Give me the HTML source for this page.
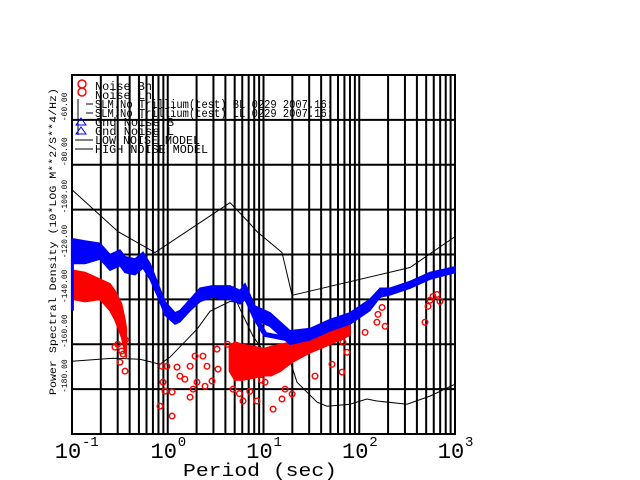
<!DOCTYPE html>
<html><head><meta charset="utf-8"><style>
html,body{margin:0;padding:0;background:#fff;}
svg{display:block;}
text{font-family:"Liberation Mono",monospace;}
</style></head><body>
<svg id="chart" width="640" height="480" viewBox="0 0 640 480" xmlns="http://www.w3.org/2000/svg">
<g id="grid"></g>
<g id="series"></g>
<g id="axes"></g>
</svg>
<script>
// ---- data ----
const yTicks = [-60, -80, -100, -120, -140, -160, -180];
const yTickLabels = ["-60.00", "-80.00", "-100.00", "-120.00", "-140.00", "-160.00", "-180.00"];
const xDecades = [-1, 0, 1, 2, 3];
const hnmPeriod = [0.1, 0.302, 0.736, 4.47, 6.89, 8.55, 15.6, 19.9, 339, 1000];
const hnmDb = [-91.1, -109.8, -119.1, -96.9, -105.3, -109.8, -119.1, -138.2, -125.8, -112];
const lnmPeriod = [0.1, 0.268, 0.513, 0.83, 1.05, 2.02, 2.76, 4.47, 5.29, 5.69, 7.77, 10.9, 12.3, 15.6, 18.0, 22.4, 36.2, 46, 80, 120, 153, 315, 548, 1000];
const lnmDb = [-167.6, -166.2, -166.7, -168.9, -165.8, -153.3, -145.3, -140.9, -141.3, -144.4, -156.4, -165.3, -165.8, -162.2, -164.4, -176.9, -185.8, -187.6, -186.7, -184.4, -185.3, -186.7, -183.1, -177.8];
const blueSpikePeriod = [0.101, 0.101, 0.103];
const blueSpikeDb = [-145, -113, -118];
const bluePeriod = [0.103, 0.137, 0.196, 0.249, 0.317, 0.358, 0.455, 0.552, 0.653, 0.791, 0.936, 1.19, 1.34, 1.71, 2.17, 2.9, 4.47, 5.69, 6.41, 8.15, 11.7, 18.9, 30.6, 49.4, 80, 129, 165, 209, 339, 548, 1000];
const blueUpperDb = [-113, -114, -115, -120, -118, -121, -122, -119, -124, -133, -141, -146, -145, -140, -135, -134, -134, -136, -133, -143, -146, -154, -153, -149, -146, -140, -135, -135, -132, -128, -125.5];
const blueLowerDb = [-124, -124, -122, -127, -125, -128, -129, -126, -131, -139, -147, -151, -150, -145, -141, -139, -140, -142, -140, -149, -152, -160, -158, -154, -151, -145, -139, -138, -135, -131, -128];
const blueLowPeriod = [6.41, 8.15, 10.4, 18.9];
const blueLowDb = [-138, -148, -155.6, -157.8];
const redBandPeriod = [0.102, 0.137, 0.196, 0.249, 0.28, 0.33, 0.358, 0.37];
const redBandUpperDb = [-127, -128, -131, -133, -136, -142, -149, -153];
const redBandLowerDb = [-140, -141, -140, -145, -149, -157, -164, -166];
const redClusterPeriod = [4.4, 5, 6, 8, 10, 12, 15, 20, 30, 50, 80];
const redClusterUpperDb = [-161, -159, -160, -161, -162, -161, -160, -159, -156, -152, -149];
const redClusterLowerDb = [-172, -176, -176, -175, -174, -174, -172, -168, -164, -160, -156];
const redPtsPeriod = [0.281, 0.341, 0.317, 0.358, 0.871, 0.98, 0.891, 0.935, 1.11, 0.83, 1.11, 1.25, 1.34, 1.51, 1.71, 1.93, 2.02, 1.84, 2.33, 2.57, 2.9, 3.27, 3.35, 2.45, 1.71, 6.11, 8.55, 12.6, 15.6, 19.9, 34.5, 51.9, 66.1, 74.5, 53.2, 67.6, 115, 153, 186, 157, 173, 486, 523, 548, 589, 649, 697, 10.4, 16.8, 4.8, 5.6, 7.2, 4.2, 9.5, 0.3, 0.33, 0.36];
const redPtsDb = [-161.3, -164.4, -168, -172, -169.8, -169.8, -176.9, -180.9, -181.3, -187.6, -192, -170.2, -174.2, -175.6, -169.8, -165.3, -176.9, -180, -165.3, -169.8, -176.4, -162.2, -171.1, -178.7, -183.6, -185.3, -185.3, -188.9, -184.4, -182.2, -174.2, -168.9, -172.4, -163.6, -156.9, -159.1, -154.7, -150.2, -152, -146.7, -143.6, -150.2, -143.1, -140.4, -138.7, -137.8, -140.9, -176.9, -180, -180, -182, -181, -160, -176, -160, -163, -158];

// ---- scales ----
const X0 = 72, X1 = 455, Y0 = 75, Y1 = 434;
const DMIN = -200, DMAX = -40;
function xs(p){ return X0 + (Math.log10(p) + 1) / 4 * (X1 - X0); }
function ys(d){ return Y0 + (DMAX - d) / (DMAX - DMIN) * (Y1 - Y0); }
const NS = "http://www.w3.org/2000/svg";
function mk(tag, attrs, parent){
  const e = document.createElementNS(NS, tag);
  for (const k in attrs) e.setAttribute(k, attrs[k]);
  parent.appendChild(e);
  return e;
}
const grid = document.getElementById('grid');
const series = document.getElementById('series');
const axes = document.getElementById('axes');

for (let dec = -1; dec < 3; dec++) {
  for (let m = 1; m <= 9; m++) {
    const x = xs(m * Math.pow(10, dec));
    const l = mk('line', {x1:x, x2:x, y1:Y0, y2:Y1, stroke:'#000', 'stroke-width':2}, grid);
    
    
  }
}
for (const t of yTicks) {
  const y = ys(t);
  const l = mk('line', {x1:X0, x2:X1, y1:y, y2:y, stroke:'#000', 'stroke-width':2}, grid);
  
  
}
const frame = mk('rect', {x:X0, y:Y0, width:X1-X0, height:Y1-Y0, fill:'none', stroke:'#000', 'stroke-width':2}, grid);



function pts(P, D){ return P.map((p,i)=> xs(p).toFixed(1)+','+ys(D[i]).toFixed(1)).join(' '); }
function poly(P, D, color, w, name){
  const e = mk('polyline', {points:pts(P,D), fill:'none', stroke:color, 'stroke-width':w, 'stroke-linejoin':'miter'}, series);
  
  
  return e;
}
function band(P, U, L, color, name){
  const up = P.map((p,i)=> xs(p).toFixed(1)+','+ys(U[i]).toFixed(1));
  const lo = P.map((p,i)=> xs(p).toFixed(1)+','+ys(L[i]).toFixed(1)).reverse();
  const e = mk('polygon', {points:up.concat(lo).join(' '), fill:color, stroke:color, 'stroke-width':1.5}, series);
  
  
  return e;
}
poly(hnmPeriod, hnmDb, '#000', 1, 'high-noise-model-line');
poly(lnmPeriod, lnmDb, '#000', 1, 'low-noise-model-line');
band(redBandPeriod, redBandUpperDb, redBandLowerDb, '#f00', 'noise-bh-band');
band(redClusterPeriod, redClusterUpperDb, redClusterLowerDb, '#f00', 'noise-lh-cluster');
redPtsPeriod.forEach((p,i)=>{
  const c = mk('circle', {cx:xs(p), cy:ys(redPtsDb[i]), r:2.8, fill:'none', stroke:'#f00', 'stroke-width':1.4}, series);
  
  
});
poly(blueSpikePeriod, blueSpikeDb, '#00f', 3, 'gnd-noise-spike');
band(bluePeriod, blueUpperDb, blueLowerDb, '#00f', 'gnd-noise-band');
poly(blueLowPeriod, blueLowDb, '#00f', 5, 'gnd-noise-lower-branch');

yTicks.forEach((t,i)=>{
  const y = ys(t) - 13;
  const tx = mk('text', {x:0, y:0, 'font-size':8, 'text-anchor':'middle', transform:`translate(67,${y}) rotate(-90)`, fill:'#000'}, axes);
  tx.textContent = yTickLabels[i];
  
  
});
xDecades.forEach(d=>{
  const x = xs(Math.pow(10, d));
  const g = mk('text', {x:x-4, y:458, 'font-size':22, 'text-anchor':'middle', fill:'#000'}, axes);
  g.textContent = '10';
  
  
  const s = mk('text', {x:x+10, y:446, 'font-size':14, 'text-anchor':'start', fill:'#000'}, axes);
  s.textContent = String(d);
  
  
});
</script>
<svg style="position:absolute;left:0;top:0" width="640" height="480">
  <text x="183" y="476" font-size="18" textLength="154" lengthAdjust="spacingAndGlyphs" font-family="Liberation Mono, monospace">Period (sec)</text>
  <text transform="translate(56,395) rotate(-90)" font-size="10" textLength="307" lengthAdjust="spacingAndGlyphs" font-family="Liberation Mono, monospace">Power Spectral Density (10*LOG M**2/S**4/Hz)</text>
  <g font-family="Liberation Mono, monospace" font-size="12" fill="#000">
    <g><circle cx="82" cy="84" r="4" fill="none" stroke="#f00" stroke-width="1.5"/><text x="95" y="90" textLength="57" lengthAdjust="spacingAndGlyphs">Noise Bh</text></g>
    <g><circle cx="82" cy="92" r="4" fill="none" stroke="#f00" stroke-width="1.5"/><text x="95" y="99" textLength="57" lengthAdjust="spacingAndGlyphs">Noise Lh</text></g>
    <g><line x1="78" y1="99" x2="78" y2="108" stroke="#000"/><line x1="86" y1="104" x2="93" y2="104" stroke="#000"/><text x="95" y="108" textLength="238" lengthAdjust="spacingAndGlyphs">SLM.No Trillium(test) BL 0229 2007.16:</text></g>
    <g><line x1="78" y1="108" x2="78" y2="117" stroke="#000"/><line x1="86" y1="113" x2="93" y2="113" stroke="#000"/><text x="95" y="117" textLength="238" lengthAdjust="spacingAndGlyphs">SLM.No Trillium(test) LL 0229 2007.16:</text></g>
    <g><line x1="78" y1="117" x2="78" y2="126" stroke="#000"/><polygon points="81,118 86,125 76,125" fill="none" stroke="#00f"/><text x="95" y="126" textLength="79" lengthAdjust="spacingAndGlyphs">Gnd Noise B</text></g>
    <g><line x1="78" y1="126" x2="78" y2="135" stroke="#000"/><polygon points="81,127 86,134 76,134" fill="none" stroke="#00f"/><text x="95" y="135" textLength="79" lengthAdjust="spacingAndGlyphs">Gnd Noise L</text></g>
    <g><line x1="75" y1="140" x2="93" y2="140" stroke="#000"/><text x="95" y="144" textLength="105" lengthAdjust="spacingAndGlyphs">LOW NOISE MODEL</text></g>
    <g><line x1="75" y1="149" x2="93" y2="149" stroke="#000"/><text x="95" y="153" textLength="113" lengthAdjust="spacingAndGlyphs">HIGH NOISE MODEL</text></g>
  </g>
</svg>
</body></html>
